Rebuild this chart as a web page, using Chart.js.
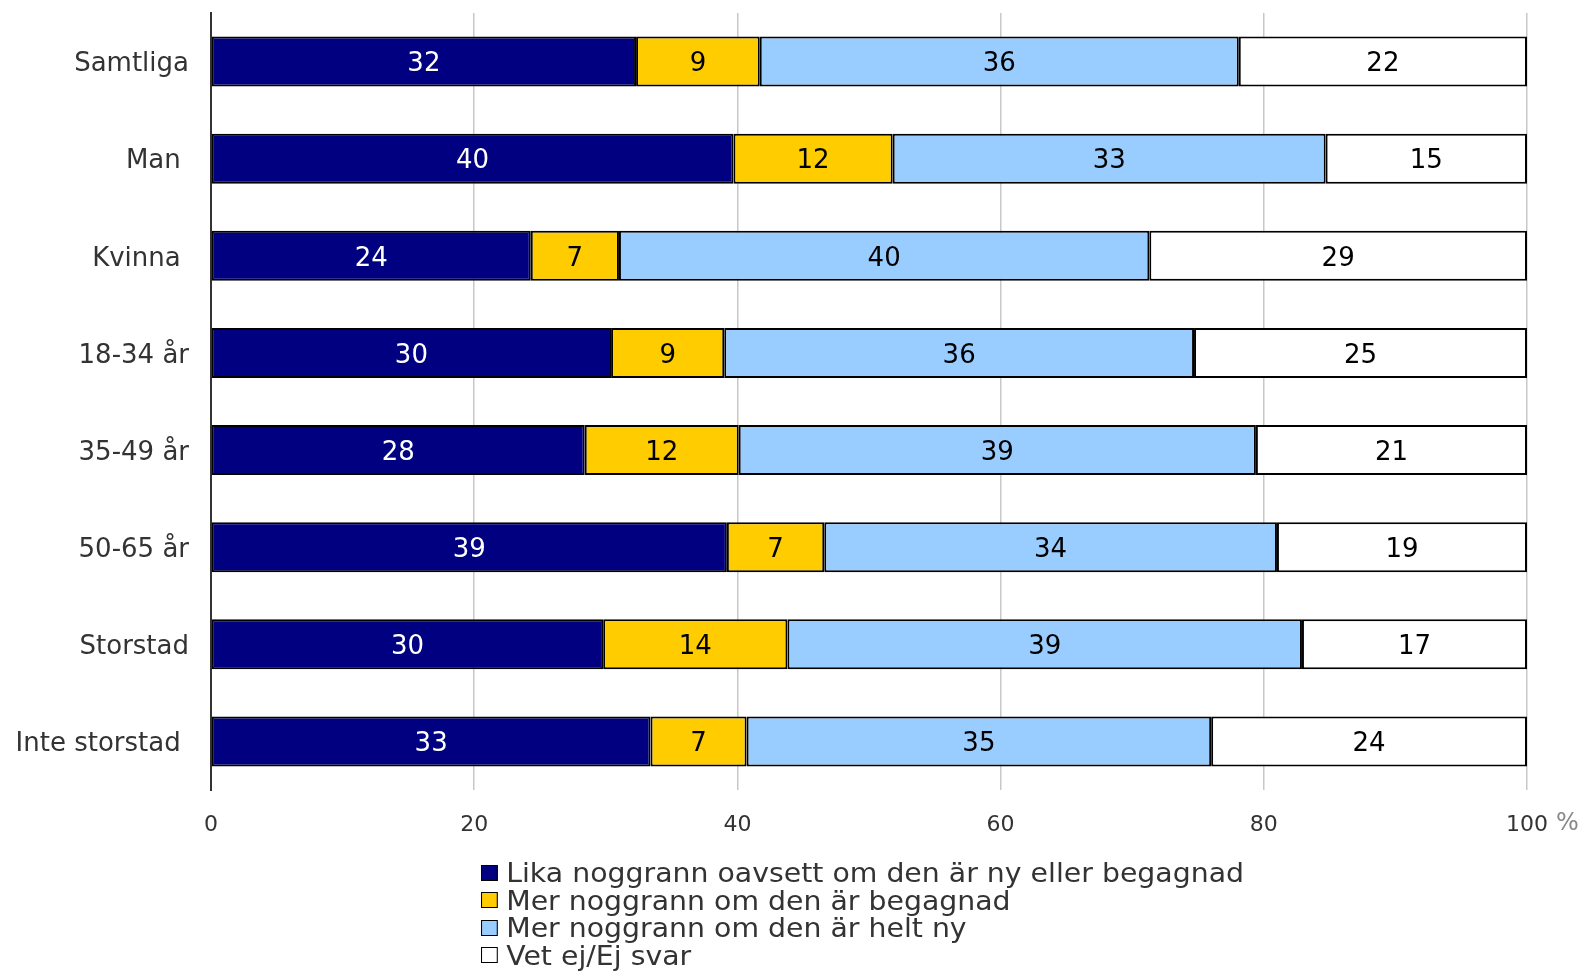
<!DOCTYPE html>
<html>
<head>
<meta charset="utf-8">
<script src="https://cdn.jsdelivr.net/npm/chart.js@4/dist/chart.umd.min.js"></script>
<style>
  html, body { margin: 0; padding: 0; background: #fff; }
  #wrap { position: relative; width: 1586px; height: 971px; }
  #legend {
    position: absolute; left: 481px; top: 859px;
    font-family: "DejaVu Sans", Verdana, sans-serif; font-size: 27px; color: #333;
    line-height: 27.5px;
    transform: scaleX(1.05); transform-origin: left top;
  }
  #legend div { display: flex; align-items: center; white-space: nowrap; }
  #legend span.box {
    display: inline-block; width: 14px; height: 14px; border: 1.5px solid #000;
    margin-right: 8px;
  }
</style>
</head>
<body>
<div id="wrap">
  <canvas id="chart" width="1586" height="971"></canvas>
  <div id="legend"></div>
</div>
<script>
const categories = ["Samtliga", "Man ", "Kvinna ", "18-34 år", "35-49 år", "50-65 år", "Storstad", "Inte storstad "]

const seriesNames = [
  "Lika noggrann oavsett om den är ny eller begagnad",
  "Mer noggrann om den är begagnad",
  "Mer noggrann om den är helt ny",
  "Vet ej/Ej svar"
]

const likaNoggrann = [32.3, 39.7, 24.3, 30.4, 28.4, 39.2, 29.8, 33.4]
const merBegagnad  = [9.4, 12.1, 6.7, 8.6, 11.7, 7.4, 14.0, 7.3]
const merHeltNy    = [36.4, 32.9, 40.3, 35.7, 39.3, 34.4, 39.1, 35.3]
const vetEj        = [21.9, 15.3, 28.7, 25.3, 20.6, 19.0, 17.1, 24.0]

const xTicks = [0, 20, 40, 60, 80, 100]

const colors = ["#000080", "#FFCC00", "#99CCFF", "#FFFFFF"]
const labelColors = ["#FFFFFF", "#000000", "#000000", "#000000"]
const seriesValues = [likaNoggrann, merBegagnad, merHeltNy, vetEj]

const FONT = '"DejaVu Sans", Verdana, sans-serif'

// draws the rounded value in the middle of each segment
const segmentLabels = {
  id: 'segmentLabels',
  afterDatasetsDraw(chart) {
    const ctx = chart.ctx
    ctx.save()
    ctx.font = '26px ' + FONT
    ctx.textAlign = 'center'
    ctx.textBaseline = 'middle'
    chart.data.datasets.forEach((ds, i) => {
      chart.getDatasetMeta(i).data.forEach((bar, j) => {
        const cx = (bar.x + bar.base) / 2
        ctx.fillStyle = labelColors[i]
        ctx.fillText(String(Math.round(ds.data[j])), cx, bar.y + 3)
      })
    })
    ctx.restore()
  }
}

// the "%" after the last tick label
const percentSign = {
  id: 'percentSign',
  afterDraw(chart) {
    const x = chart.scales.x
    const ctx = chart.ctx
    ctx.save()
    ctx.font = '24px ' + FONT
    ctx.fillStyle = '#888'
    ctx.textAlign = 'left'
    ctx.textBaseline = 'middle'
    ctx.fillText('%', x.getPixelForValue(100) + 29, 824)
    ctx.restore()
  }
}

const chart = new Chart(document.getElementById('chart'), {
  type: 'bar',
  data: {
    labels: categories,
    datasets: seriesNames.map((name, i) => ({
      label: name,
      data: seriesValues[i],
      backgroundColor: colors[i],
      borderColor: '#000',
      borderWidth: 2,
      borderSkipped: false,
      barPercentage: 0.515,
      categoryPercentage: 1
    }))
  },
  options: {
    indexAxis: 'y',
    responsive: false,
    animation: false,
    devicePixelRatio: 1,
    layout: { padding: { top: 13, right: 59, bottom: 121, left: 0 } },
    plugins: {
      legend: { display: false },
      tooltip: { enabled: false }
    },
    scales: {
      x: {
        stacked: true,
        min: 0,
        max: 100,
        afterBuildTicks: (scale) => { scale.ticks = xTicks.map(v => ({ value: v })) },
        grid: { color: '#c8c8c8', lineWidth: 1.5, drawTicks: false },
        border: { display: false },
        ticks: { padding: 22, color: '#333', font: { family: FONT, size: 22 } },
        afterFit: (scale) => { scale.height = 60 }
      },
      y: {
        stacked: true,
        grid: { display: false },
        border: { display: true, color: '#333', width: 2 },
        ticks: { padding: 14, labelOffset: 3, color: '#333', font: { family: FONT, size: 26 } },
        afterFit: (scale) => {
          scale.width = 211
          scale.paddingTop = 0
          scale.paddingBottom = 0
        }
      }
    }
  },
  plugins: [segmentLabels, percentSign]
})

// legend, one entry per line like the original
const legend = document.getElementById('legend')
chart.data.datasets.forEach((ds) => {
  const row = document.createElement('div')
  const box = document.createElement('span')
  box.className = 'box'
  box.style.background = ds.backgroundColor
  row.appendChild(box)
  row.appendChild(document.createTextNode(ds.label))
  legend.appendChild(row)
})
</script>
</body>
</html>
